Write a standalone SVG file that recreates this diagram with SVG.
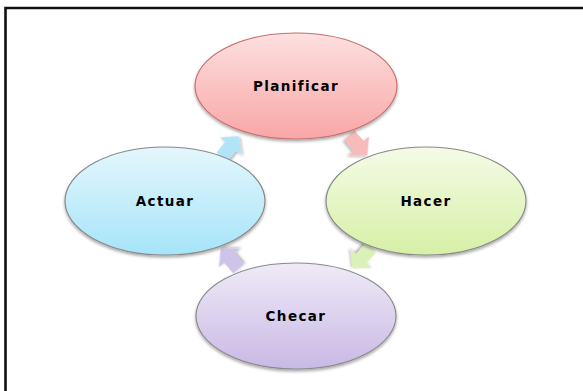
<svg xmlns="http://www.w3.org/2000/svg" width="583" height="391" viewBox="0 0 583 391">
<defs>
<linearGradient id="gPink" x1="0" y1="0" x2="0" y2="1"><stop offset="0" stop-color="#fde0e0"/><stop offset="1" stop-color="#f9a6a6"/></linearGradient>
<linearGradient id="gBlue" x1="0" y1="0" x2="0" y2="1"><stop offset="0" stop-color="#e4f7fd"/><stop offset="1" stop-color="#a6e4f9"/></linearGradient>
<linearGradient id="gGreen" x1="0" y1="0" x2="0" y2="1"><stop offset="0" stop-color="#f5fbe6"/><stop offset="1" stop-color="#d6f0a6"/></linearGradient>
<linearGradient id="gPurple" x1="0" y1="0" x2="0" y2="1"><stop offset="0" stop-color="#efeaf7"/><stop offset="1" stop-color="#c9b9e5"/></linearGradient>
<filter id="sh" x="-20%" y="-20%" width="140%" height="150%"><feDropShadow dx="0" dy="2" stdDeviation="1.5" flood-color="#000" flood-opacity="0.35"/></filter>
<path id="arr" d="M-13,-7 L1,-7 L1,-14 L14,0 L1,14 L1,7 L-13,7 Z"/>
</defs>
<style>
.node ellipse{stroke-width:1.2;filter:url(#sh)}
.lbl{font-family:"DejaVu Sans",sans-serif;font-weight:bold;font-size:13.5px;letter-spacing:1.4px;fill:#000;text-anchor:middle}
.conn use{filter:url(#sh);opacity:0.9}
</style>
<rect width="583" height="391" fill="#fff"/>
<path d="M5.5,391 V8 H583" fill="none" stroke="#111" stroke-width="2.6"/>
<g id="connectors" class="conn">
<use href="#arr" transform="translate(230,147) rotate(-51)" fill="#a8e2f6"/>
<use href="#arr" transform="translate(358,145) rotate(48)" fill="#f8b4b4"/>
<use href="#arr" transform="translate(362,258) rotate(131)" fill="#d7f1b2"/>
<use href="#arr" transform="translate(230,259) rotate(-131)" fill="#cbbde7"/>
</g>
<g id="planificar" class="node">
<ellipse cx="296" cy="86" rx="101" ry="53" fill="url(#gPink)" stroke="#c77070"/>
<text class="lbl" x="296" y="91">Planificar</text>
</g>
<g id="hacer" class="node">
<ellipse cx="426" cy="201" rx="100" ry="54" fill="url(#gGreen)" stroke="#8a8a8a"/>
<text class="lbl" x="426" y="206">Hacer</text>
</g>
<g id="checar" class="node">
<ellipse cx="296" cy="316" rx="100" ry="53" fill="url(#gPurple)" stroke="#8a8a8a"/>
<text class="lbl" x="296" y="321">Checar</text>
</g>
<g id="actuar" class="node">
<ellipse cx="165" cy="201" rx="100" ry="54" fill="url(#gBlue)" stroke="#8a8a8a"/>
<text class="lbl" x="165" y="206">Actuar</text>
</g>
</svg>
